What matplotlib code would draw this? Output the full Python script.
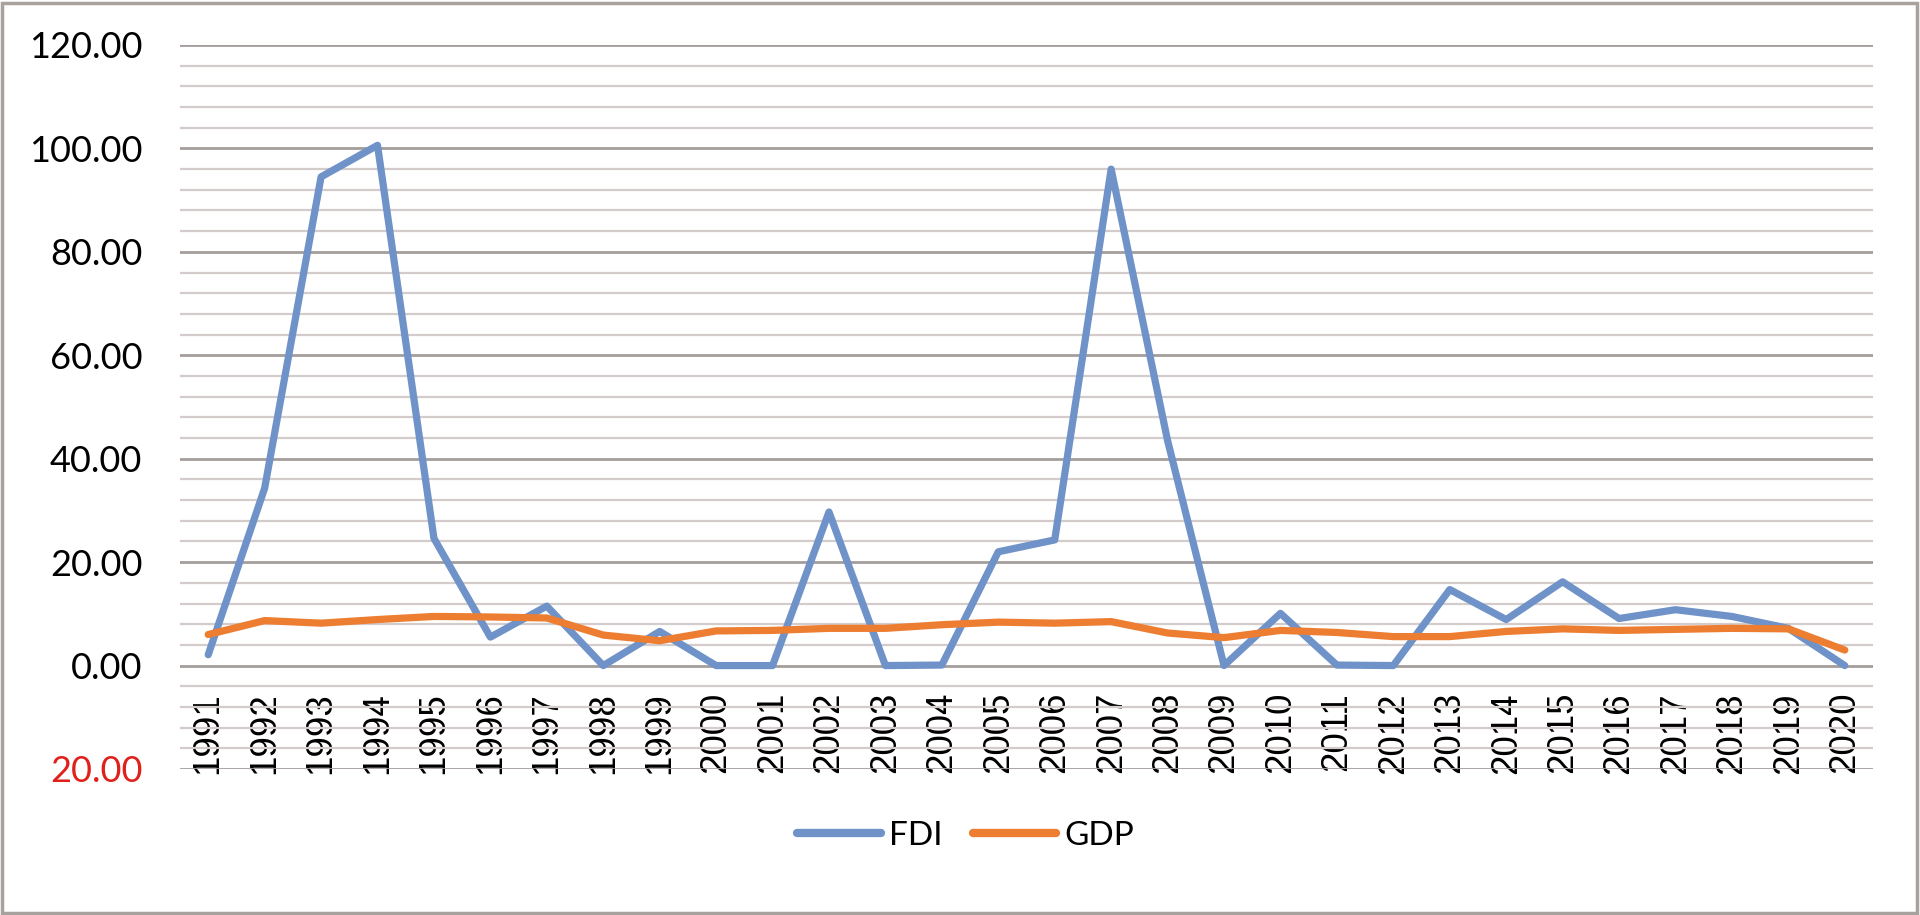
import matplotlib
matplotlib.use("Agg")
import matplotlib.pyplot as plt
from matplotlib.patches import Rectangle

# data
years = [str(y) for y in range(1991, 2021)]
fdi = [2.1, 34.3, 94.5, 100.6, 24.6, 5.5, 11.5, 0.0, 6.6, 0.0,
       0.0, 29.7, 0.0, 0.1, 22.0, 24.3, 96.0, 43.5, 0.0, 10.1,
       0.1, 0.0, 14.7, 8.9, 16.2, 9.1, 10.8, 9.5, 7.2, 0.0]
gdp = [6.0, 8.7, 8.2, 8.9, 9.5, 9.4, 9.2, 5.9, 4.8, 6.7,
       6.8, 7.2, 7.2, 7.9, 8.4, 8.2, 8.5, 6.3, 5.4, 6.8,
       6.4, 5.6, 5.6, 6.6, 7.1, 6.8, 7.0, 7.2, 7.1, 3.0]
major_ticks = [-20, 0, 20, 40, 60, 80, 100, 120]
minor_ticks = [v for v in range(-20, 121, 4) if v % 20 != 0]

blue = "#6f93c8"
orange = "#ed7d31"

fig = plt.figure(figsize=(19.2, 9.15), dpi=100)
ax = fig.add_axes([180 / 1920, 1 - 769 / 915, (1873 - 180) / 1920, (769 - 45) / 915])

x = range(len(years))
ax.plot(x, fdi, color=blue, lw=5.2, label="FDI",
        solid_joinstyle="round", solid_capstyle="round", zorder=3)
ax.plot(x, gdp, color=orange, lw=5.2, label="GDP",
        solid_joinstyle="round", solid_capstyle="round", zorder=4)

ax.set_xlim(-0.5, len(years) - 0.5)
ax.set_ylim(-20, 120)

# gridlines
ax.set_yticks(major_ticks)
ax.set_yticks(minor_ticks, minor=True)
ax.grid(axis="y", which="major", color="#a39d9b", lw=2, zorder=1)
ax.grid(axis="y", which="minor", color="#d3cccb", lw=1.6, zorder=1)
ax.set_axisbelow(True)
for s in ax.spines.values():
    s.set_visible(False)

ax.set_yticklabels([f"{abs(v):.2f}" for v in major_ticks],
                   fontsize=26, family=["Lato", "DejaVu Sans"])
ax.tick_params(axis="y", which="both", length=0, pad=27)
ax.get_yticklabels()[0].set_color("#e0201b")

# category labels just under the zero line
ax.spines["bottom"].set_position(("data", 0))
ax.set_xticks(list(x))
ax.set_xticklabels(years, rotation=90, fontsize=26.5,
                   family=["Liberation Sans", "DejaVu Sans"], va="top")
ax.tick_params(axis="x", length=0, pad=19)

leg = fig.legend(loc="center", bbox_to_anchor=(0.503, 1 - 836 / 915), ncol=2,
                 frameon=False, prop={"family": ["Lato", "DejaVu Sans"], "size": 24},
                 handlelength=2.5, columnspacing=0.9, handletextpad=0.25)
for h in leg.get_lines():
    h.set_linewidth(6)

fig.patches.append(Rectangle((2 / 1920, 2 / 915), 1915 / 1920, 910 / 915,
                             transform=fig.transFigure, fill=False,
                             edgecolor="#a8a29f", lw=2.5))

fig.savefig("out.png", dpi=100)
